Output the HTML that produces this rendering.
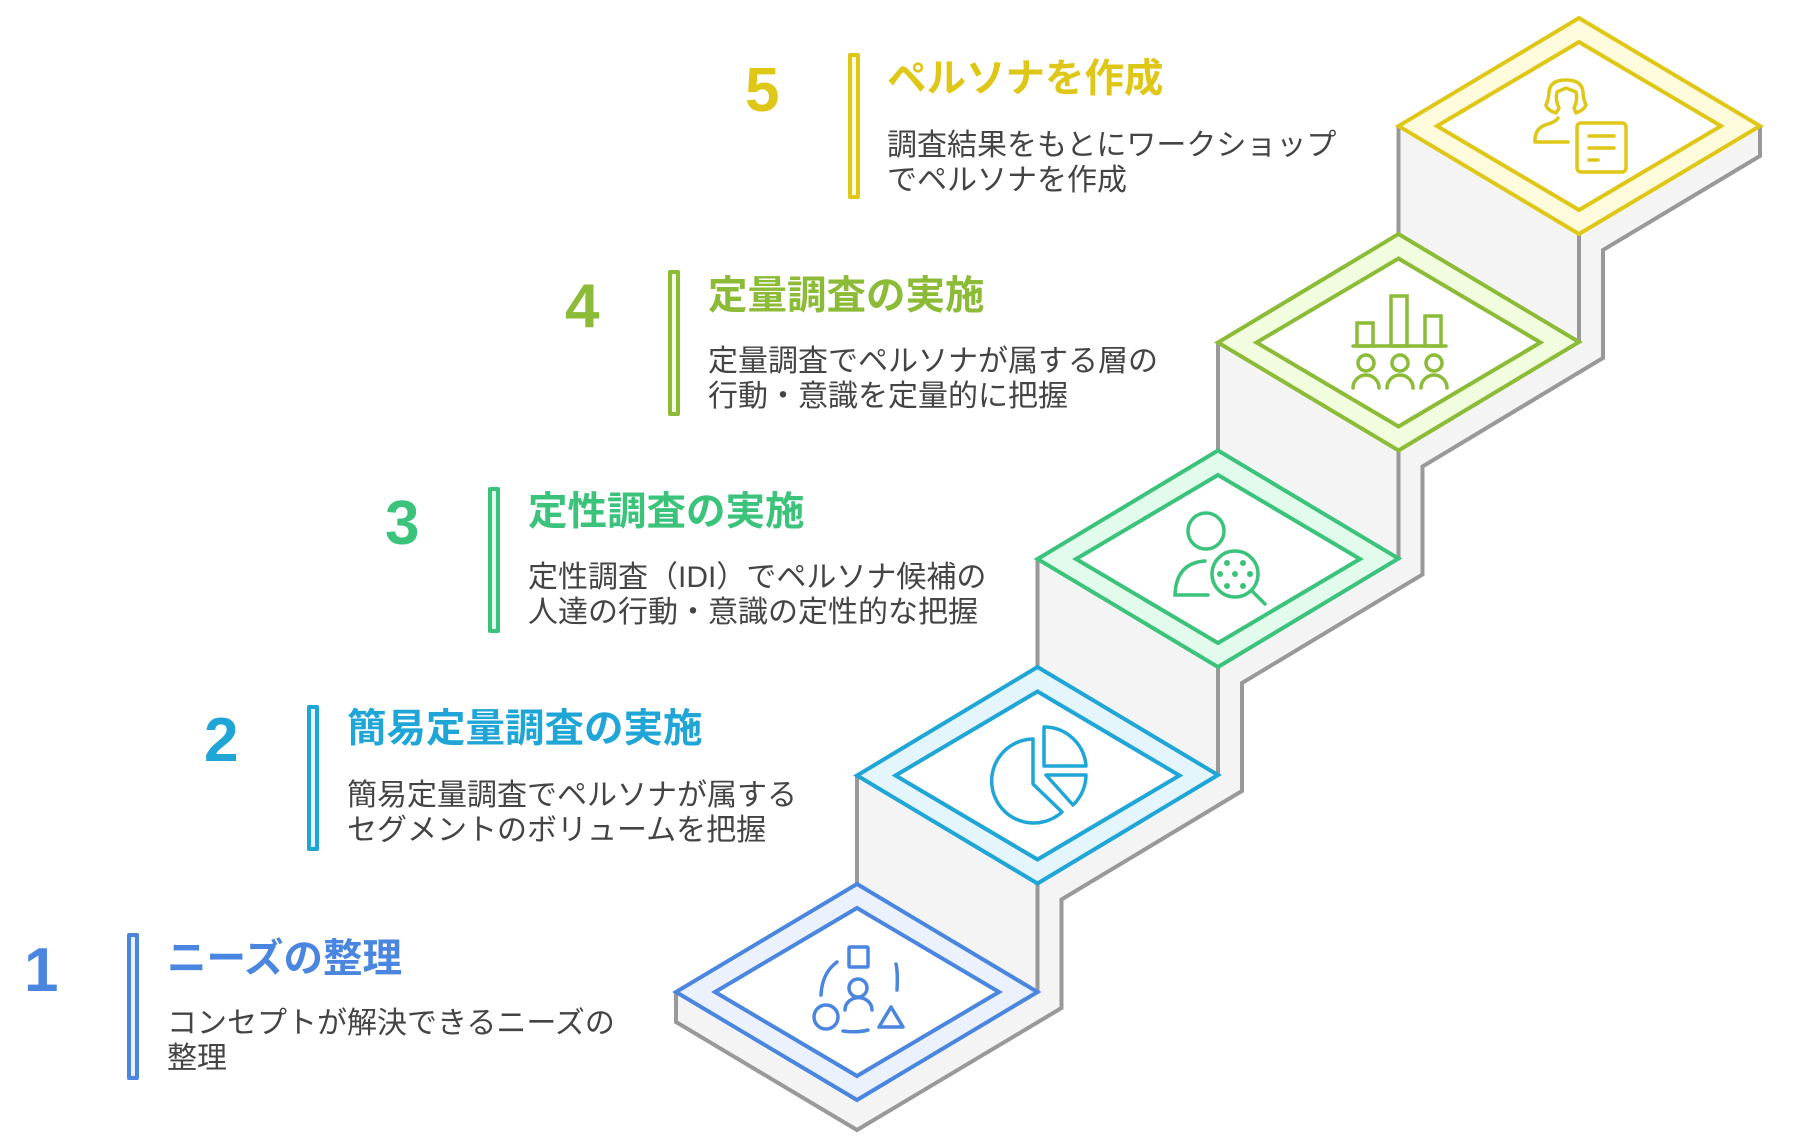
<!DOCTYPE html>
<html><head><meta charset="utf-8"><style>
html,body{margin:0;padding:0;background:#fff;}
body{width:1802px;height:1138px;position:relative;overflow:hidden;font-family:"Liberation Sans","Noto Sans CJK JP",sans-serif;}
.n{position:absolute;font-weight:bold;font-size:62px;line-height:62px;font-family:"Liberation Sans",sans-serif;}
.t{position:absolute;font-weight:bold;font-size:39.5px;line-height:44px;white-space:nowrap;}
.d{position:absolute;font-size:30px;line-height:35px;color:#444;white-space:nowrap;}
.b{position:absolute;box-sizing:border-box;border:4px solid;border-radius:2px;}
</style></head><body>
<svg width="1802" height="1138" style="position:absolute;left:0;top:0">
<polygon fill="#f4f4f4" points="676,992 857,884 857,775.5 1037.5,667.5 1037.5,559 1218,450.5 1218,342.5 1398.5,234 1398.5,126 1579,18 1760,126 1760,156 1603,250 1603,358 1422.5,466.5 1422.5,574.5 1242,683 1242,791 1061.5,899.5 1061.5,1008 857,1130 676,1022"/>
<g fill="none" stroke="#999" stroke-width="4" stroke-linejoin="miter">
<polyline points="1760,126 1760,156 1603,250 1603,358 1422.5,466.5 1422.5,574.5 1242,683 1242,791 1061.5,899.5 1061.5,1008 857,1130 676,1022 676,992"/>
<line x1="1398.5" y1="126" x2="1398.5" y2="234"/><line x1="1579" y1="234" x2="1579" y2="342"/>
<line x1="1218" y1="342.5" x2="1218" y2="450.5"/><line x1="1398.5" y1="450.5" x2="1398.5" y2="558.5"/>
<line x1="1037.5" y1="559" x2="1037.5" y2="667"/><line x1="1218" y1="667" x2="1218" y2="775"/>
<line x1="857" y1="775.5" x2="857" y2="884"/><line x1="1037.5" y1="883.5" x2="1037.5" y2="992"/>
</g>
<g stroke-width="4" stroke-linejoin="miter">
<polygon fill="#fffbdd" stroke="#dfc717" points="1579,18 1760,126 1579,234 1398.5,126"/>
<polygon fill="#fff" stroke="#dfc717" points="1579,42 1721,126 1579,210 1437,126"/>
<polygon fill="#f2fddf" stroke="#8cbb38" points="1398.5,234 1579,342 1398.5,450.5 1218,342.5"/>
<polygon fill="#fff" stroke="#8cbb38" points="1398.5,258.5 1540.5,342.5 1398.5,426.5 1256.5,342.5"/>
<polygon fill="#e2fbed" stroke="#3cc37b" points="1218,450.5 1398.5,558.5 1218,667 1037.5,559"/>
<polygon fill="#fff" stroke="#3cc37b" points="1218,475 1360,559 1218,643 1076,559"/>
<polygon fill="#e4f6fc" stroke="#1fa6d7" points="1037.5,667 1218,775 1037.5,883.5 857,775.5"/>
<polygon fill="#fff" stroke="#1fa6d7" points="1037.5,691.5 1179.5,775.5 1037.5,859.5 895.5,775.5"/>
<polygon fill="#ebf2fd" stroke="#4a86e0" points="857,884 1037.5,992 857,1100 676,992"/>
<polygon fill="#fff" stroke="#4a86e0" points="857,908 999,992 857,1076 715,992"/>
</g>
<g fill="none" stroke="#dfc717" stroke-width="3.5" stroke-linecap="round" stroke-linejoin="round">
<path d="M1556,113 Q1547,110 1546,105 Q1549,98 1549,92 Q1550,80 1566,80 Q1582,80 1583,92 Q1583,98 1586,105 Q1584,110 1576,113 L1574,108 Q1578,100 1576,92 L1566,88 L1557,92 Q1555,100 1559,108 Z"/>
<path d="M1558,118 Q1556,122 1545,125 Q1535,129 1535,140 L1535,142 L1568,142"/>
<rect x="1577" y="123" width="49" height="49" rx="4"/>
<path d="M1589,136H1614M1589,148H1614M1589,160H1598"/>
</g>
<g fill="none" stroke="#8cbb38" stroke-width="3.5" stroke-linecap="round">
<path d="M1353,346H1446"/>
<rect x="1357" y="323" width="16" height="23"/><rect x="1391" y="296" width="16" height="50"/><rect x="1425" y="316" width="16" height="30"/>
<circle cx="1366" cy="363" r="8"/><circle cx="1400" cy="363" r="8"/><circle cx="1434" cy="363" r="8"/>
<path d="M1353,388a13,13 0 0 1 26,0M1387,388a13,13 0 0 1 26,0M1421,388a13,13 0 0 1 26,0"/>
</g>
<g fill="none" stroke="#3cc37b" stroke-width="3.5" stroke-linecap="round">
<circle cx="1206" cy="531" r="18"/>
<path d="M1205,561Q1176,563 1175,595H1208"/>
<circle cx="1235" cy="574" r="23"/><path d="M1252,591L1265,604"/>
</g>
<g fill="#3cc37b"><circle cx="1227" cy="563" r="3"/><circle cx="1243" cy="563" r="3"/><circle cx="1220" cy="574" r="3"/><circle cx="1235" cy="574" r="3"/><circle cx="1250" cy="574" r="3"/><circle cx="1227" cy="586" r="3"/><circle cx="1243" cy="586" r="3"/></g>
<g fill="none" stroke="#1fa6d7" stroke-width="3.5" stroke-linejoin="round">
<path d="M1033,739A42,42 0 1 0 1062,812L1033,784Z"/>
<path d="M1044,727A42,42 0 0 1 1086,766H1044Z"/>
<path d="M1046,775H1086A42,42 0 0 1 1073,805Z"/>
</g>
<g fill="none" stroke="#4a86e0" stroke-width="3.5" stroke-linecap="round" stroke-linejoin="round">
<rect x="849" y="947" width="19" height="20" rx="1"/>
<circle cx="858" cy="988" r="9"/>
<path d="M845,1010a13,12 0 0 1 27,0"/>
<circle cx="826" cy="1017" r="12"/>
<path d="M891,1007L903,1027H879Z"/>
<path d="M837,962Q822,973 821,995M896,964Q898,972 897,990M843,1031Q857,1033 868,1030"/>
</g>
</svg>
<div class="n" style="left:745px;top:60px;color:#dfc717">5</div>
<div class="b" style="left:848px;top:53px;width:12px;height:146px;border-color:#dfc717;background:#fffbdd"></div>
<div class="t" style="left:887px;top:57px;color:#dfc717">ペルソナを作成</div>
<div class="d" style="left:887px;top:128px">調査結果をもとにワークショップ<br>でペルソナを作成</div>

<div class="n" style="left:565px;top:276px;color:#8cbb38">4</div>
<div class="b" style="left:668px;top:270px;width:12px;height:146px;border-color:#8cbb38;background:#f2fddf"></div>
<div class="t" style="left:708px;top:274px;color:#8cbb38">定量調査の実施</div>
<div class="d" style="left:708px;top:344px">定量調査でペルソナが属する層の<br>行動・意識を定量的に把握</div>

<div class="n" style="left:385px;top:493px;color:#3cc37b">3</div>
<div class="b" style="left:488px;top:487px;width:12px;height:146px;border-color:#3cc37b;background:#e2fbed"></div>
<div class="t" style="left:528px;top:490px;color:#3cc37b">定性調査の実施</div>
<div class="d" style="left:528px;top:560px">定性調査（IDI）でペルソナ候補の<br>人達の行動・意識の定性的な把握</div>

<div class="n" style="left:204px;top:710px;color:#1fa6d7">2</div>
<div class="b" style="left:307px;top:705px;width:12px;height:146px;border-color:#1fa6d7;background:#e4f6fc"></div>
<div class="t" style="left:347px;top:707px;color:#1fa6d7">簡易定量調査の実施</div>
<div class="d" style="left:347px;top:778px">簡易定量調査でペルソナが属する<br>セグメントのボリュームを把握</div>

<div class="n" style="left:24px;top:940px;color:#4a86e0">1</div>
<div class="b" style="left:127px;top:933px;width:12px;height:147px;border-color:#4a86e0;background:#ebf2fd"></div>
<div class="t" style="left:167px;top:937px;color:#4a86e0">ニーズの整理</div>
<div class="d" style="left:167px;top:1006px">コンセプトが解決できるニーズの<br>整理</div>
</body></html>
